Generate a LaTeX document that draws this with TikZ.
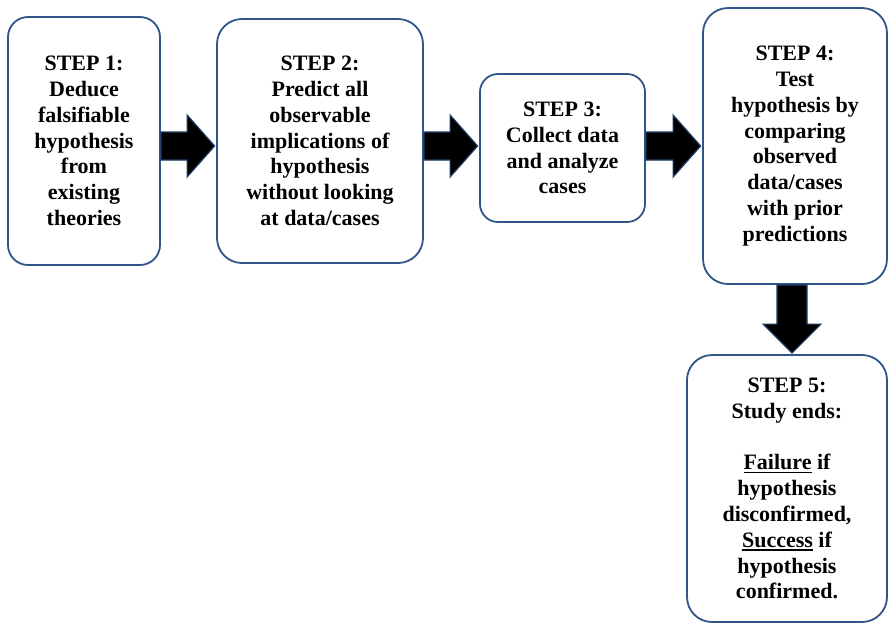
\documentclass[tikz,border=0pt]{standalone}
\usepackage{fontspec}
\setmainfont{Liberation Serif}
\usetikzlibrary{calc}
\definecolor{boxblue}{HTML}{2F5589}
\definecolor{arrblue}{HTML}{1F3D66}
\newcommand\ulword[1]{\setbox0\hbox{#1}\rlap{\rule[-3.5pt]{\wd0}{1.7pt}}#1}
\newcommand\hblk[3]{%
  \draw[blkarrow] (#1.east |- 0,#3-14)
    -- ($(#2.west |- 0,#3-14)+(-29,0)$)
    -- ($(#2.west |- 0,#3-31)+(-29,0)$)
    -- ($(#2.west |- 0,#3)+(-1.5,0)$)
    -- ($(#2.west |- 0,#3+31)+(-29,0)$)
    -- ($(#2.west |- 0,#3+14)+(-29,0)$)
    -- (#1.east |- 0,#3+14) -- cycle;}
\begin{document}
\begin{tikzpicture}[x=1pt,y=-1pt,
  stepbox/.style={draw=boxblue, line width=1.8pt, fill=white, rounded corners=#1,
    align=center, font=\fontsize{22}{25.8}\selectfont\bfseries, inner sep=0pt},
  blkarrow/.style={fill=black, draw=arrblue, line width=1.2pt, line join=miter}]
\useasboundingbox (0,0) rectangle (888,625);
\node[stepbox=20pt, minimum width=152pt, minimum height=248pt] (s1) at (84,141)
  {STEP 1:\\Deduce\\falsifiable\\hypothesis\\from\\existing\\theories};
\node[stepbox=25pt, minimum width=206pt, minimum height=244pt] (s2) at (320,141)
  {STEP 2:\\Predict all\\observable\\implications of\\hypothesis\\without looking\\at data/cases};
\node[stepbox=18pt, minimum width=165pt, minimum height=148pt] (s3) at (562.5,148)
  {STEP 3:\\Collect data\\and analyze\\cases};
\node[stepbox=25pt, minimum width=184pt, minimum height=276pt] (s4) at (795,146)
  {STEP 4:\\Test\\hypothesis by\\comparing\\observed\\data/cases\\with prior\\predictions};
\node[stepbox=25pt, minimum width=200pt, minimum height=267pt] (s5) at (787,488.5)
  {STEP 5:\\Study ends:\\[25.8pt]\ulword{Failure} if\\hypothesis\\disconfirmed,\\\ulword{Success} if\\hypothesis\\confirmed.};
\hblk{s1}{s2}{146}
\hblk{s2}{s3}{146}
\hblk{s3}{s4}{146}
\draw[blkarrow] ($(s4.south -| 792,0)+(-15,0)$)
  -- ($(s5.north -| 792,0)+(-15,-30)$)
  -- ($(s5.north -| 792,0)+(-29,-30)$)
  -- ($(s5.north -| 792,0)+(0,-1)$)
  -- ($(s5.north -| 792,0)+(29,-30)$)
  -- ($(s5.north -| 792,0)+(15,-30)$)
  -- ($(s4.south -| 792,0)+(15,0)$) -- cycle;
\end{tikzpicture}
\end{document}
